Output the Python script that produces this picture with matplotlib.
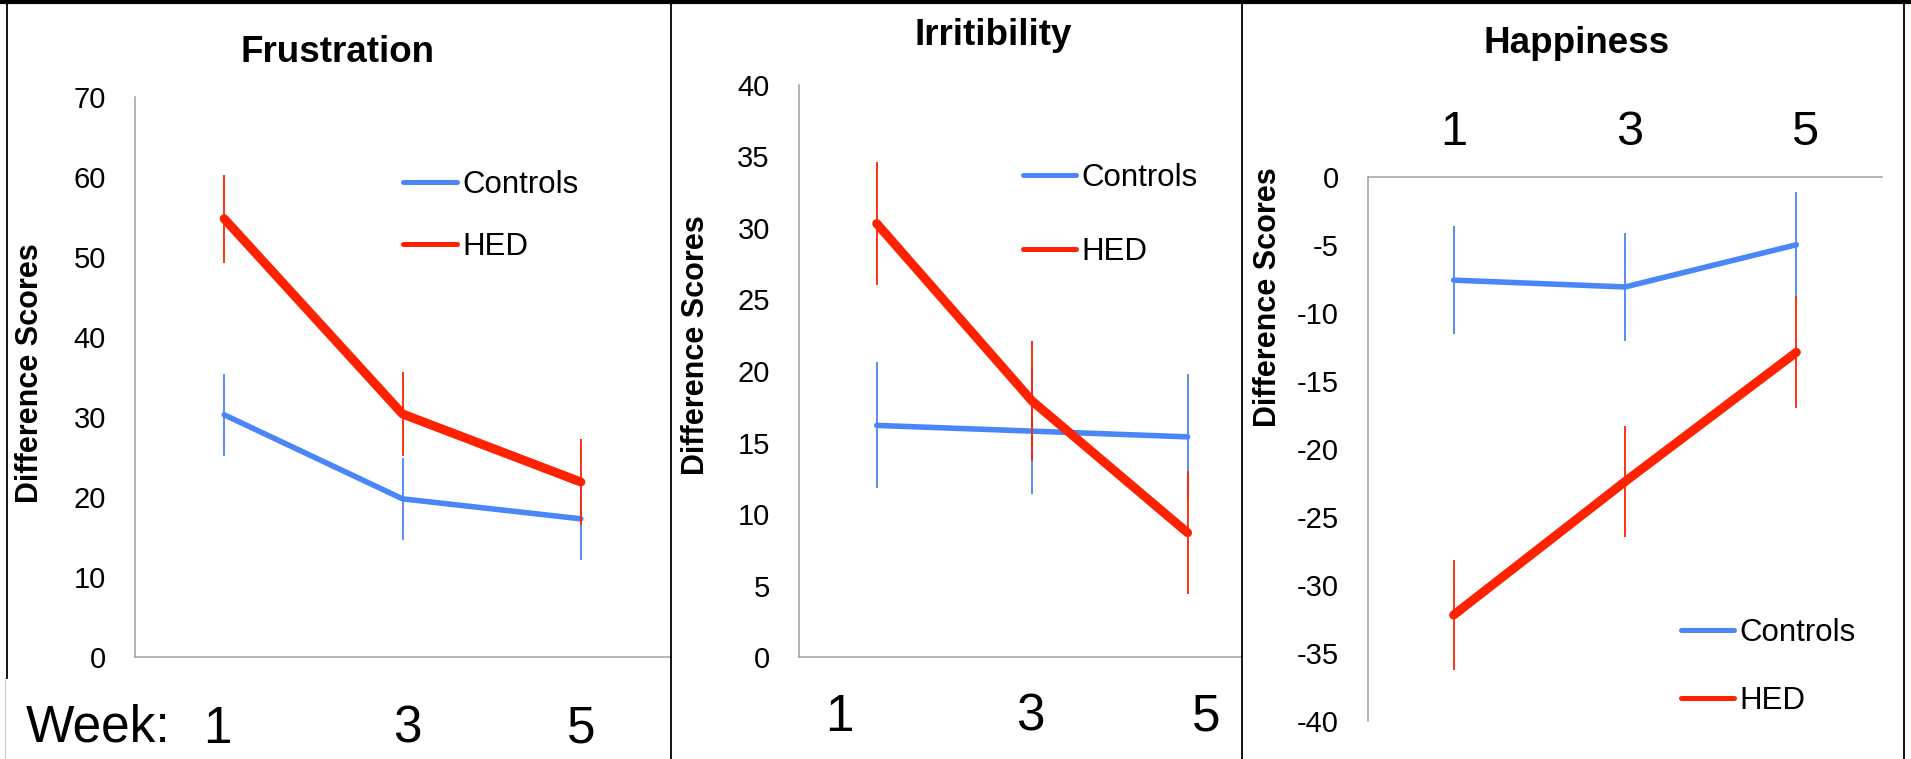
import matplotlib
matplotlib.use('Agg')
import matplotlib.pyplot as plt
import matplotlib.transforms as mtrans
from matplotlib.lines import Line2D

plt.rcParams['font.family'] = ['Liberation Sans', 'DejaVu Sans']
plt.rcParams['axes.unicode_minus'] = False

BLUE = '#4A86F7'
RED = '#FF2200'
GREY = '#A0A0A0'

weeks = ['1', '3', '5']
x = [1, 2, 3]

# Frustration
frus_ctrl = [30.3, 19.8, 17.3]
frus_ctrl_err = [5.1, 5.1, 5.2]
frus_hed = [54.8, 30.4, 21.9]
frus_hed_err = [5.5, 5.2, 5.4]

# Irritibility
irr_ctrl = [16.2, 15.8, 15.4]
irr_ctrl_err = [4.4, 4.4, 4.4]
irr_hed = [30.3, 17.9, 8.7]
irr_hed_err = [4.3, 4.2, 4.3]

# Happiness
hap_ctrl = [-7.6, -8.1, -5.0]
hap_ctrl_err = [3.95, 3.95, 3.9]
hap_hed = [-32.2, -22.4, -12.9]
hap_hed_err = [4.05, 4.1, 4.1]

W, H = 1911, 759
fig = plt.figure(figsize=(W / 100, H / 100), dpi=100)


def px_axes(left, top, right, bottom):
    return fig.add_axes([left / W, 1 - bottom / H, (right - left) / W, (bottom - top) / H])


def draw(ax, ctrl, ctrl_err, hed, hed_err):
    ax.errorbar(x, ctrl, yerr=ctrl_err, color=BLUE, lw=4, elinewidth=1.3,
                capsize=0, solid_capstyle='round', zorder=3)
    ax.errorbar(x, hed, yerr=hed_err, color=RED, lw=6.5, elinewidth=1.3,
                capsize=0, solid_capstyle='round', zorder=4)


def style(ax):
    for s in ax.spines.values():
        s.set_color(GREY)
        s.set_linewidth(1.1)
    ax.tick_params(axis='both', length=0)
    ax.tick_params(axis='y', labelsize=21, pad=21)
    ax.set_xticks([])


def legend(ax, x0, y0, spacing):
    handles = [Line2D([], [], color=BLUE, lw=3.6, solid_capstyle='round'),
               Line2D([], [], color=RED, lw=3.6, solid_capstyle='round')]
    ax.legend(handles, ['Controls', 'HED'], loc='center left', bbox_to_anchor=(x0, y0),
              frameon=False, fontsize=22.5, handlelength=1.72, handletextpad=0.17,
              labelspacing=spacing, borderpad=0, borderaxespad=0)


def week_labels(ax, pos, yfrac, size):
    tr = mtrans.blended_transform_factory(ax.transData, ax.transAxes)
    for p, w in zip(pos, weeks):
        ax.text(p, yfrac, w, transform=tr, ha='center', va='baseline', fontsize=size)


# ---- Frustration
ax1 = px_axes(135, 97, 670, 657.3)
draw(ax1, frus_ctrl, frus_ctrl_err, frus_hed, frus_hed_err)
style(ax1)
ax1.spines['top'].set_visible(False)
ax1.spines['right'].set_visible(False)
ax1.set_xlim(0.5, 3.5)
ax1.set_ylim(0, 70)
ax1.set_yticks(range(0, 71, 10))
ax1.set_title('Frustration', fontsize=26.5, fontweight='bold', x=0.379, y=1.063, pad=0)
ax1.set_ylabel('Difference Scores', fontsize=22, fontweight='bold')
ax1.yaxis.set_label_coords(-0.196, 0.508)
ax1.yaxis.label.set_va('center')
legend(ax1, 0.501, 0.788, 1.03)
week_labels(ax1, [0.96, 2.03, 3.0], -0.1529, 37)
ax1.text(26 / W, 1 - 742 / H, 'Week:', transform=fig.transFigure, ha='left',
         va='baseline', fontsize=37)

# ---- Irritibility
ax2 = px_axes(799, 84.7, 1242, 657.3)
draw(ax2, irr_ctrl, irr_ctrl_err, irr_hed, irr_hed_err)
style(ax2)
ax2.spines['top'].set_visible(False)
ax2.spines['right'].set_visible(False)
ax2.set_xlim(0.5, 3.35)
ax2.set_ylim(0, 40)
ax2.set_yticks(range(0, 41, 5))
ax2.set_title('Irritibility', fontsize=26.5, fontweight='bold', x=0.438, y=1.070, pad=0)
ax2.set_ylabel('Difference Scores', fontsize=22, fontweight='bold')
ax2.yaxis.set_label_coords(-0.2325, 0.545)
ax2.yaxis.label.set_va('center')
legend(ax2, 0.505, 0.772, 1.40)
week_labels(ax2, [0.76, 1.99, 3.12], -0.1287, 37)

# ---- Happiness
ax3 = px_axes(1368, 176.7, 1882, 721.2)
draw(ax3, hap_ctrl, hap_ctrl_err, hap_hed, hap_hed_err)
style(ax3)
ax3.spines['bottom'].set_visible(False)
ax3.spines['right'].set_visible(False)
ax3.set_xlim(0.5, 3.5)
ax3.set_ylim(-40, 0)
ax3.set_yticks(range(-40, 1, 5))
ax3.set_title('Happiness', fontsize=26.5, fontweight='bold', x=0.405, y=1.227, pad=0)
ax3.set_ylabel('Difference Scores', fontsize=22, fontweight='bold')
ax3.yaxis.set_label_coords(-0.1946, 0.778)
ax3.yaxis.label.set_va('center')
legend(ax3, 0.608, 0.100, 1.22)
week_labels(ax3, [1.0, 2.03, 3.05], 1.0582, 35)

# panel borders
def fline(x0, y0, x1, y1, lw, color='black'):
    fig.add_artist(Line2D([x0 / W, x1 / W], [1 - y0 / H, 1 - y1 / H], color=color,
                          lw=lw, transform=fig.transFigure))

fline(0, 2, W, 2, 3.0)
fline(7, 0, 7, 678, 1.3)
fline(5, 678, 5, H, 0.8, '#C8C8C8')
fline(670.7, 0, 670.7, H, 1.3)
fline(1242, 0, 1242, H, 1.3)
fline(1904, 0, 1904, H, 1.3)

fig.savefig('out.png', dpi=100)
